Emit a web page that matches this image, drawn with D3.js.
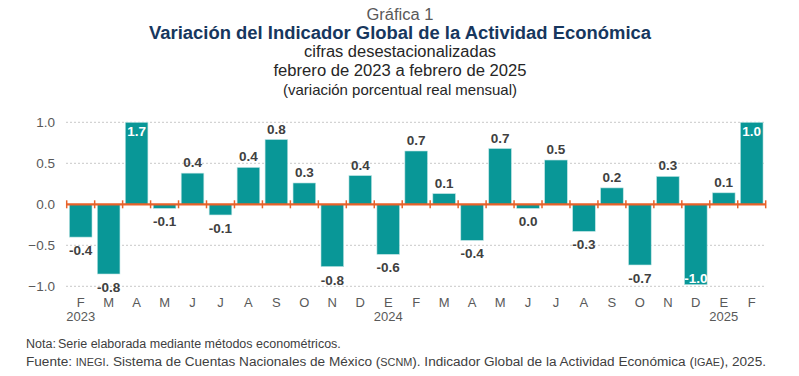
<!doctype html>
<html lang="es">
<head>
<meta charset="utf-8">
<title>Gráfica 1</title>
<script src="https://cdn.jsdelivr.net/npm/d3@7"></script>
<style>
  body { margin: 0; background: #fff; }
  svg { display: block; font-family: "Liberation Sans", Arial, sans-serif; }
</style>
</head>
<body>
<div id="chart"></div>
<script>
// months, feb 2023 - feb 2025
var months = ["F","M","A","M","J","J","A","S","O","N","D","E","F","M","A","M","J","J","A","S","O","N","D","E","F"];
var years = [{i: 0, y: "2023"}, {i: 11, y: "2024"}, {i: 23, y: "2025"}];
// bar heights
var values = [-0.40,-0.85,1.70,-0.05,0.38,-0.13,0.45,0.79,0.26,-0.76,0.35,-0.61,0.65,0.13,-0.44,0.68,-0.05,0.54,-0.33,0.20,-0.74,0.34,-0.98,0.14,1.00];
// printed labels
var labels = ["-0.4","-0.8","1.7","-0.1","0.4","-0.1","0.4","0.8","0.3","-0.8","0.4","-0.6","0.7","0.1","-0.4","0.7","0.0","0.5","-0.3","0.2","-0.7","0.3","-1.0","0.1","1.0"];
var yTicks = [-1.0, -0.5, 0.0, 0.5, 1.0];

var width = 799, height = 376;
var svg = d3.select("#chart").append("svg")
    .attr("width", width)
    .attr("height", height);

// titles
var titles = [
  {t: "Gráfica 1", y: 20, size: 16, w: 67, bold: false, fill: "#595959"},
  {t: "Variación del Indicador Global de la Actividad Económica", y: 39, size: 18, w: 502, bold: true, fill: "#17375e"},
  {t: "cifras desestacionalizadas", y: 57, size: 16, w: 192, bold: false, fill: "#262626"},
  {t: "febrero de 2023 a febrero de 2025", y: 76, size: 16, w: 253, bold: false, fill: "#262626"},
  {t: "(variación porcentual real mensual)", y: 95, size: 14.5, w: 234, bold: false, fill: "#262626"}
];
svg.append("g").selectAll("text")
  .data(titles)
  .enter().append("text")
    .attr("x", 400)
    .attr("y", function(d) { return d.y; })
    .attr("text-anchor", "middle")
    .attr("font-size", function(d) { return d.size; })
    .attr("font-weight", function(d) { return d.bold ? "bold" : "normal"; })
    .attr("fill", function(d) { return d.fill; })
    .attr("textLength", function(d) { return d.w; })
    .attr("lengthAdjust", "spacingAndGlyphs")
    .text(function(d) { return d.t; });

// scales
var x = d3.scaleBand()
    .domain(d3.range(months.length))
    .range([66.7, 765.7])
    .paddingInner(0.19)
    .paddingOuter(0.095);

var y = d3.scaleLinear()
    .domain([-1, 1])
    .range([286.3, 122.3])
    .clamp(true);   // the 1.7 bar is cut at the top of the plot

// gridlines
svg.append("g").selectAll("line")
  .data(yTicks.filter(function(d) { return d !== 0; }))
  .enter().append("line")
    .attr("x1", 66).attr("x2", 766)
    .attr("y1", function(d) { return y(d); })
    .attr("y2", function(d) { return y(d); })
    .attr("stroke", "#c8c8c8")
    .attr("stroke-width", 1)
    .attr("stroke-dasharray", "2,2");

// y labels
svg.append("g").selectAll("text")
  .data(yTicks)
  .enter().append("text")
    .attr("x", 55)
    .attr("y", function(d) { return y(d) + 5; })
    .attr("text-anchor", "end")
    .attr("font-size", 13.5)
    .attr("fill", "#595959")
    .text(function(d) { return d3.format(".1f")(d); });

// bars
svg.append("g").selectAll("rect")
  .data(values)
  .enter().append("rect")
    .attr("x", function(d, i) { return x(i); })
    .attr("width", x.bandwidth())
    .attr("y", function(d) { return Math.min(y(d), y(0)); })
    .attr("height", function(d) { return Math.abs(y(d) - y(0)); })
    .attr("fill", "#099797")
    .attr("stroke", "#bfe4e4")
    .attr("stroke-width", 0.6);

// zero line with ticks between months
var step = x.step();
var zero = svg.append("g");
zero.append("line")
    .attr("x1", 66.7).attr("x2", 765.7)
    .attr("y1", y(0)).attr("y2", y(0))
    .attr("stroke", "#e8622a")
    .attr("stroke-width", 2.2);
zero.selectAll("line.tk")
  .data(d3.range(months.length + 1))
  .enter().append("line")
    .attr("class", "tk")
    .attr("x1", function(d) { return 66.7 + d * step; })
    .attr("x2", function(d) { return 66.7 + d * step; })
    .attr("y1", y(0) - 4).attr("y2", y(0) + 4)
    .attr("stroke", "#e8622a")
    .attr("stroke-width", 1.5);

// value labels (inside the bar in white when the bar hits the edge)
svg.append("g").selectAll("text")
  .data(values)
  .enter().append("text")
    .attr("x", function(d, i) { return x(i) + x.bandwidth() / 2; })
    .attr("y", function(d) {
      if (d >= 1) return y(d) + 14;
      if (d <= -0.95) return y(d) - 2;
      return d >= 0 ? y(d) - 6 : y(d) + 18;
    })
    .attr("text-anchor", "middle")
    .attr("font-size", 13.5)
    .attr("font-weight", "bold")
    .attr("fill", function(d) { return (d >= 1 || d <= -0.95) ? "#ffffff" : "#404040"; })
    .text(function(d, i) { return labels[i]; });

// month labels
svg.append("g").selectAll("text")
  .data(months)
  .enter().append("text")
    .attr("x", function(d, i) { return x(i) + x.bandwidth() / 2; })
    .attr("y", 307)
    .attr("text-anchor", "middle")
    .attr("font-size", 13)
    .attr("fill", "#595959")
    .text(function(d) { return d; });

svg.append("g").selectAll("text")
  .data(years)
  .enter().append("text")
    .attr("x", function(d) { return x(d.i) + x.bandwidth() / 2; })
    .attr("y", 321)
    .attr("text-anchor", "middle")
    .attr("font-size", 13)
    .attr("fill", "#595959")
    .text(function(d) { return d.y; });

// notes
var note = svg.append("g").attr("font-size", 12.5).attr("fill", "#404040");
var n1 = note.append("text").attr("x", 26).attr("y", 348);
n1.append("tspan").text("Nota:");
n1.append("tspan").attr("x", 58).text("Serie elaborada mediante métodos econométricos.");

var n2 = note.append("text").attr("x", 26).attr("y", 366)
    .attr("textLength", 740).attr("lengthAdjust", "spacingAndGlyphs");
n2.append("tspan").text("Fuente: ");
n2.append("tspan").attr("font-size", 10).text("INEGI");
n2.append("tspan").text(". Sistema de Cuentas Nacionales de México (");
n2.append("tspan").attr("font-size", 10).text("SCNM");
n2.append("tspan").text("). Indicador Global de la Actividad Económica (");
n2.append("tspan").attr("font-size", 10).text("IGAE");
n2.append("tspan").text("), 2025.");
</script>
</body>
</html>
